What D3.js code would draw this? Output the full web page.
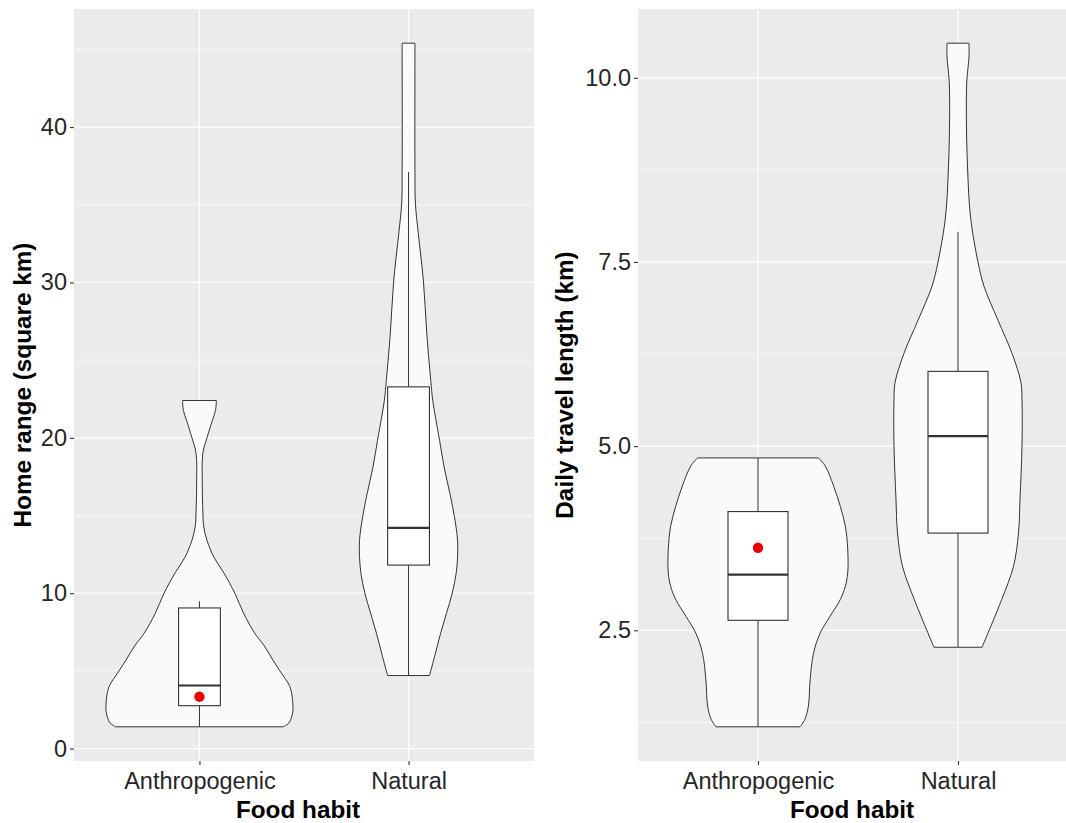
<!DOCTYPE html>
<html>
<head>
<meta charset="utf-8">
<script src="https://cdn.jsdelivr.net/npm/d3@7"></script>
<style>
  html, body { margin: 0; padding: 0; background: #ffffff; }
  svg { display: block; }
  text { font-family: "Liberation Sans", Arial, sans-serif; }
</style>
</head>
<body>
<svg id="chart" width="1066" height="823"></svg>
<script>
// ---- data ----
const categories = ["Anthropogenic", "Natural"];

// Home range (square km): violin outlines as [value, relative density]
const homeAnthroDensity = [
  [1.4, 0.89], [1.65, 0.95], [2.3, 0.99], [3.1, 0.99], [4.0, 0.96], [4.86, 0.87],
  [5.7, 0.78], [6.6, 0.69], [7.4, 0.59], [8.7, 0.47], [9.95, 0.38], [11.3, 0.26],
  [12.3, 0.155], [13.4, 0.08], [14.3, 0.045], [15.3, 0.036], [17.0, 0.03],
  [19.0, 0.036], [20.0, 0.08], [21.1, 0.136], [21.75, 0.17], [22.4, 0.18]
];
const homeNaturalDensity = [
  [4.7, 0.223], [6.14, 0.286], [7.42, 0.341], [8.71, 0.403], [9.95, 0.462],
  [11.27, 0.506], [12.34, 0.521], [13.41, 0.521], [14.91, 0.488], [16.41, 0.44],
  [18.12, 0.378], [19.83, 0.33], [21.33, 0.286], [22.4, 0.257], [23.3, 0.242],
  [26.7, 0.194], [30.1, 0.158], [33.2, 0.103], [35.1, 0.073], [37.4, 0.068],
  [44.5, 0.068], [45.4, 0.068]
];
const homeWhiskerLow = [1.4, 4.7];
const homeQ1 = [2.76, 11.81];
const homeMedian = [4.06, 14.2];
const homeQ3 = [9.05, 23.28];
const homeWhiskerHigh = [9.48, 37.1];
const homeMarker = [3.34, null];
const homeTicks = [0, 10, 20, 30, 40];

// Daily travel length (km)
const travelAnthroDensity = [
  [1.19, 0.467], [1.29, 0.52], [1.47, 0.56], [1.83, 0.579], [2.19, 0.617],
  [2.46, 0.69], [2.69, 0.80], [2.92, 0.915], [3.10, 0.971], [3.28, 0.997],
  [3.60, 0.997], [3.91, 0.971], [4.18, 0.915], [4.46, 0.84], [4.73, 0.747],
  [4.84, 0.672]
];
const travelNaturalDensity = [
  [2.27, 0.267], [2.92, 0.486], [3.37, 0.617], [3.82, 0.672], [4.28, 0.689],
  [5.0, 0.711], [5.63, 0.711], [5.86, 0.70], [6.26, 0.60], [6.71, 0.444],
  [7.17, 0.289], [7.5, 0.222], [8.11, 0.139], [8.79, 0.106], [9.47, 0.093],
  [9.96, 0.098], [10.28, 0.122], [10.47, 0.122]
];
const travelWhiskerLow = [1.19, 2.27];
const travelQ1 = [2.636, 3.82];
const travelMedian = [3.256, 5.136];
const travelQ3 = [4.112, 6.015];
const travelWhiskerHigh = [4.84, 7.91];
const travelMarker = [3.62, null];
const travelTicks = [2.5, 5.0, 7.5, 10.0];

// ---- drawing ----
const svg = d3.select("#chart");
const panelTop = 9, panelBottom = 761;

function drawPanel(opts) {
  const { x0, x1, densities, low, q1, med, q3, high, marker, ticks, tickFmt,
          yTitle, yTitleX, boxFrac } = opts;

  // y domain: data range with 5% expansion on each side
  const allVals = densities.flat().map(d => d[0]);
  const lo = d3.min(allVals), hi = d3.max(allVals);
  const pad = (hi - lo) * 0.05;
  const y = d3.scaleLinear().domain([lo - pad, hi + pad]).range([panelBottom, panelTop]);
  const x = d3.scalePoint().domain(categories).range([x0, x1]).padding(0.6);
  const step = x.step();
  const w = d3.scaleLinear().domain([0, 1]).range([0, 0.45 * step]);

  const g = svg.append("g");
  const clipId = "clip" + Math.round(x0);
  g.append("clipPath").attr("id", clipId)
    .append("rect").attr("x", x0).attr("y", panelTop)
    .attr("width", x1 - x0).attr("height", panelBottom - panelTop);

  g.append("rect").attr("x", x0).attr("y", panelTop)
    .attr("width", x1 - x0).attr("height", panelBottom - panelTop)
    .attr("fill", "#EBEBEB");

  const grid = g.append("g").attr("clip-path", `url(#${clipId})`);
  // minor gridlines halfway between major ticks
  const tStep = ticks[1] - ticks[0];
  const minor = d3.range(ticks[0] - tStep / 2, hi + pad + tStep, tStep)
    .filter(v => v > lo - pad && v < hi + pad);
  grid.selectAll("line.minor").data(minor).join("line")
    .attr("x1", x0).attr("x2", x1)
    .attr("y1", d => y(d)).attr("y2", d => y(d))
    .attr("stroke", "#ffffff").attr("stroke-width", 0.6);
  grid.selectAll("line.majorY").data(ticks).join("line")
    .attr("x1", x0).attr("x2", x1)
    .attr("y1", d => y(d)).attr("y2", d => y(d))
    .attr("stroke", "#ffffff").attr("stroke-width", 1.2);
  grid.selectAll("line.majorX").data(categories).join("line")
    .attr("x1", d => x(d)).attr("x2", d => x(d))
    .attr("y1", panelTop).attr("y2", panelBottom)
    .attr("stroke", "#ffffff").attr("stroke-width", 1.2);

  // violins
  categories.forEach((c, i) => {
    const cx = x(c);
    const area = d3.area()
      .curve(d3.curveCatmullRom.alpha(0.5))
      .y(d => y(d[0]))
      .x0(d => cx - w(d[1]))
      .x1(d => cx + w(d[1]));
    g.append("path").datum(densities[i])
      .attr("d", area)
      .attr("fill", "#FAFAFA")
      .attr("stroke", "#333333")
      .attr("stroke-width", 1)
      .attr("stroke-linejoin", "round");
  });

  // box plots
  const bw = boxFrac * step / 2;
  categories.forEach((c, i) => {
    const cx = x(c);
    const bg = g.append("g").attr("stroke", "#333333").attr("stroke-width", 1);
    bg.append("line").attr("x1", cx).attr("x2", cx)
      .attr("y1", y(q3[i])).attr("y2", y(high[i]));
    bg.append("line").attr("x1", cx).attr("x2", cx)
      .attr("y1", y(q1[i])).attr("y2", y(low[i]));
    bg.append("rect").attr("x", cx - bw).attr("width", 2 * bw)
      .attr("y", y(q3[i])).attr("height", y(q1[i]) - y(q3[i]))
      .attr("fill", "#ffffff").attr("stroke-width", 1.1);
    bg.append("line").attr("x1", cx - bw).attr("x2", cx + bw)
      .attr("y1", y(med[i])).attr("y2", y(med[i]))
      .attr("stroke-width", 2.2);
    if (marker[i] != null) {
      g.append("circle").attr("cx", cx).attr("cy", y(marker[i]))
        .attr("r", 5.2).attr("fill", "#EE0000");
    }
  });

  // axes
  const yAxis = d3.axisLeft(y).tickValues(ticks).tickFormat(tickFmt)
    .tickSize(4).tickPadding(3);
  const ya = g.append("g").attr("transform", `translate(${x0},0)`).call(yAxis);
  const xAxis = d3.axisBottom(x).tickSize(4).tickPadding(6);
  const xa = g.append("g").attr("transform", `translate(0,${panelBottom})`).call(xAxis);
  [ya, xa].forEach(a => {
    a.select(".domain").remove();
    a.selectAll(".tick line").attr("stroke", "#333333").attr("stroke-width", 1.1);
    a.selectAll(".tick text").attr("fill", "#262626")
      .style("font-size", "23.5px");
  });
  xa.selectAll(".tick text").attr("y", 0).attr("dy", null).attr("dominant-baseline", "auto")
    .attr("transform", "translate(0,28)");

  // titles
  g.append("text")
    .attr("x", (x0 + x1) / 2 - 6).attr("y", 818)
    .attr("text-anchor", "middle")
    .style("font-size", "24.3px").style("font-weight", "bold")
    .attr("fill", "#000000")
    .text("Food habit");
  g.append("text")
    .attr("transform", `translate(${yTitleX},${(panelTop + panelBottom) / 2}) rotate(-90)`)
    .attr("text-anchor", "middle")
    .style("font-size", "24.3px").style("font-weight", "bold")
    .attr("fill", "#000000")
    .text(yTitle);
}

drawPanel({
  x0: 74, x1: 534,
  densities: [homeAnthroDensity, homeNaturalDensity],
  low: homeWhiskerLow, q1: homeQ1, med: homeMedian, q3: homeQ3, high: homeWhiskerHigh,
  marker: homeMarker, ticks: homeTicks, tickFmt: d3.format("d"),
  yTitle: "Home range (square km)", yTitleX: 31, boxFrac: 0.2
});

drawPanel({
  x0: 638, x1: 1078,
  densities: [travelAnthroDensity, travelNaturalDensity],
  low: travelWhiskerLow, q1: travelQ1, med: travelMedian, q3: travelQ3, high: travelWhiskerHigh,
  marker: travelMarker, ticks: travelTicks, tickFmt: d3.format(".1f"),
  yTitle: "Daily travel length (km)", yTitleX: 573, boxFrac: 0.3
});
</script>
</body>
</html>
